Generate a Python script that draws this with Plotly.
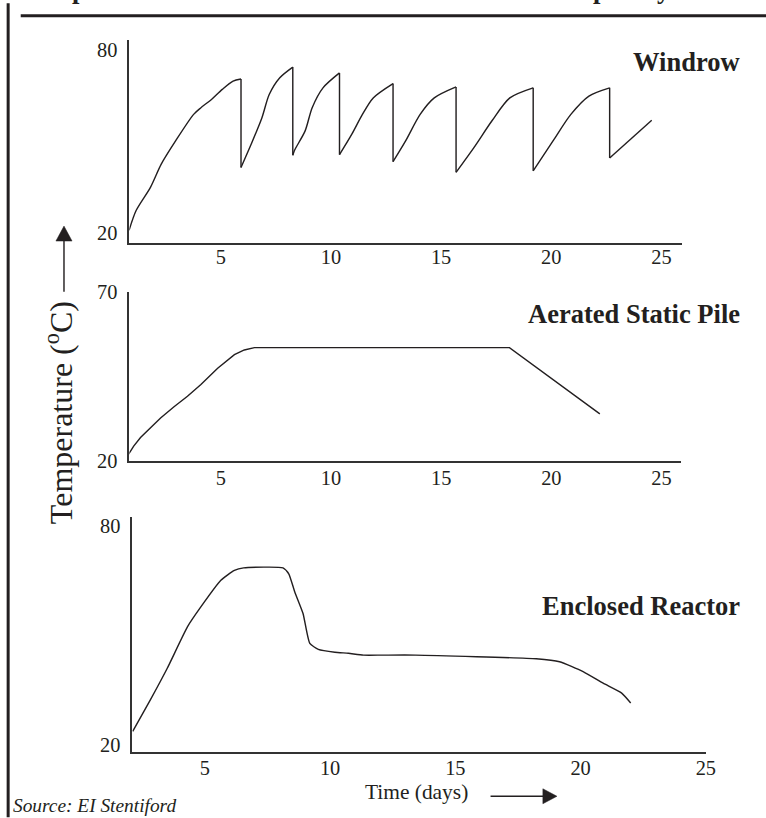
import plotly.graph_objects as go

# ---------------- data ----------------
windrow_day = [0.84, 1.16, 1.81, 2.30, 2.95, 3.77, 4.10, 4.58, 5.07, 5.56, 5.92,
               5.92, 6.38, 6.87, 7.20, 7.68, 8.27,
               8.27, 8.34, 8.83, 9.15, 9.64, 10.39,
               10.39, 10.95, 11.43, 11.92, 12.82,
               12.82, 13.39, 14.05, 14.69, 15.68,
               15.68, 16.49, 17.31, 18.12, 19.18,
               19.18, 20.08, 20.89, 21.71, 22.65,
               22.65, 24.56]
windrow_temp = [20.9, 27.4, 35.0, 42.6, 50.2, 58.9, 61.1, 63.8, 67.1, 69.8, 70.5,
                41.5, 49.1, 57.8, 65.4, 70.9, 74.4,
                45.5, 47.0, 53.5, 61.1, 67.6, 72.5,
                45.7, 52.4, 58.9, 64.3, 69.0,
                43.4, 50.2, 58.9, 64.3, 67.9,
                39.9, 48.0, 56.8, 64.3, 67.6,
                40.4, 50.2, 58.9, 64.9, 67.6,
                44.6, 57.0]

asp_day = [0.82, 1.05, 1.36, 1.81, 2.27, 2.88, 3.49, 4.10, 4.86, 5.62, 6.07, 6.53, 7.14, 18.10, 22.20]
asp_temp = [22.0, 24.4, 26.9, 29.8, 32.7, 36.0, 39.1, 42.6, 47.4, 51.4, 52.8, 53.5, 53.5, 53.5, 33.9]

er_day = [2.12, 2.83, 3.50, 4.31, 4.84, 5.64, 6.18, 6.55, 8.12, 8.35, 8.59, 8.92, 9.19, 9.53,
          10.19, 10.73, 11.33, 12.07, 13.41, 18.23, 19.16, 20.10, 20.90, 21.64, 22.00]
er_temp = [23.6, 32.3, 40.9, 52.3, 57.7, 65.0, 67.7, 68.4, 68.4, 66.8, 61.8, 55.9, 47.7, 46.1,
           45.3, 45.0, 44.5, 44.5, 44.5, 43.5, 42.7, 40.0, 36.8, 34.1, 31.4]

x_ticks = [5, 10, 15, 20, 25]
windrow_yticks = [20, 80]
asp_yticks = [20, 70]
er_yticks = [20, 80]

panel_names = ["Windrow", "Aerated Static Pile", "Enclosed Reactor"]
title_text = "Temperature trends within the three different compost systems"
y_title = "Temperature (<sup>o</sup>C)"
x_title = "Time (days)"
source_text = "Source: EI Stentiford"

# ---------------- layout helpers ----------------
W, H = 766, 818
INK = "#231f20"
SERIF = "Liberation Serif, Times New Roman, serif"
# the photographed page comes out slightly reduced and pushed down; these
# factors map a wanted position in the picture back to figure pixels
SX, OX, SY, OY = 0.981, 0.4, 0.978, 7.8
K = 1.02  # size compensation for the same reduction


def fx(px):
    return ((px - OX) / SX) / W


def fy(py):
    return 1 - ((py - OY) / SY) / H


fig = go.Figure()

# windrow: smooth rising arcs, straight vertical drops where two points share a day
arc_x, arc_y, drop_x, drop_y = [], [], [], []
for i, (d, t) in enumerate(zip(windrow_day, windrow_temp)):
    if i > 0 and d == windrow_day[i - 1]:
        arc_x.append(None); arc_y.append(None)
        drop_x += [windrow_day[i - 1], d, None]
        drop_y += [windrow_temp[i - 1], t, None]
    arc_x.append(d); arc_y.append(t)

line_style = dict(color=INK, width=1.4 * K)
fig.add_trace(go.Scatter(x=arc_x, y=arc_y, mode="lines", line=dict(shape="spline", smoothing=0.8, **line_style),
                         connectgaps=False, xaxis="x", yaxis="y", showlegend=False, hoverinfo="skip"))
fig.add_trace(go.Scatter(x=drop_x, y=drop_y, mode="lines", line=line_style,
                         connectgaps=False, xaxis="x", yaxis="y", showlegend=False, hoverinfo="skip"))
fig.add_trace(go.Scatter(x=asp_day, y=asp_temp, mode="lines", line=line_style,
                         xaxis="x2", yaxis="y2", showlegend=False, hoverinfo="skip"))
fig.add_trace(go.Scatter(x=er_day, y=er_temp, mode="lines", line=dict(shape="spline", smoothing=0.5, **line_style),
                         xaxis="x3", yaxis="y3", showlegend=False, hoverinfo="skip"))

axis_common = dict(showline=True, linecolor="#333333", linewidth=1.6 * K, showgrid=False,
                   zeroline=False, ticks="", tickfont=dict(family=SERIF, size=20 * K, color=INK),
                   fixedrange=True)

fig.update_layout(
    width=W, height=H,
    margin=dict(l=0, r=0, t=0, b=0),
    paper_bgcolor="white", plot_bgcolor="white",
    showlegend=False,
    xaxis=dict(domain=[fx(129), fx(678)], range=[0.854, 25.92], anchor="y",
               tickvals=x_ticks, ticklabelstandoff=-5, **axis_common),
    yaxis=dict(domain=[fy(241), fy(37)], range=[16.74, 83.26], anchor="x",
               tickvals=windrow_yticks, ticklabelstandoff=6, **axis_common),
    xaxis2=dict(domain=[fx(129), fx(677)], range=[0.854, 25.87], anchor="y2",
                tickvals=x_ticks, ticklabelstandoff=-2, **axis_common),
    yaxis2=dict(domain=[fy(460), fy(290)], range=[20, 70], anchor="x2",
                tickvals=asp_yticks, ticklabelstandoff=6, **axis_common),
    xaxis3=dict(domain=[fx(132), fx(702)], range=[2.108, 25.0], anchor="y3",
                tickvals=x_ticks, ticklabelstandoff=-4, **axis_common),
    yaxis3=dict(domain=[fy(753), fy(516)], range=[17.82, 82.45], anchor="x3",
                tickvals=er_yticks, ticklabelstandoff=6, **axis_common),
)

# panel labels
label_pos = [(738, 59), (738, 312), (738, 606)]
for name, (lx, ly) in zip(panel_names, label_pos):
    fig.add_annotation(x=fx(lx), y=fy(ly), xref="paper", yref="paper", text=f"<b>{name}</b>",
                       showarrow=False, xanchor="right", yanchor="middle",
                       font=dict(family=SERIF, size=26 * K, color=INK))

# title: only its lowest part shows at the very top edge
fig.add_annotation(x=fx(21), y=fy(2.8), xref="paper", yref="paper", text=f"<b>{title_text}</b>",
                   showarrow=False, xanchor="left", yanchor="bottom",
                   font=dict(family=SERIF, size=26 * K, color=INK))

# y axis title (rotated)
fig.add_annotation(x=fx(59), y=fy(411), xref="paper", yref="paper", text=y_title,
                   showarrow=False, textangle=-90, xanchor="center", yanchor="middle",
                   font=dict(family=SERIF, size=32, color=INK))

# x axis title
fig.add_annotation(x=fx(414), y=fy(793), xref="paper", yref="paper", text=x_title,
                   showarrow=False, xanchor="center", yanchor="middle",
                   font=dict(family=SERIF, size=21 * K, color=INK))

# source
fig.add_annotation(x=fx(11), y=fy(806), xref="paper", yref="paper", text=f"<i>{source_text}</i>",
                   showarrow=False, xanchor="left", yanchor="middle",
                   font=dict(family=SERIF, size=19 * K, color=INK))

# frame lines
fig.add_shape(type="line", xref="paper", yref="paper", x0=fx(8.5), x1=fx(8.5), y0=fy(818), y1=fy(0),
              line=dict(color=INK, width=3))
fig.add_shape(type="line", xref="paper", yref="paper", x0=fx(21), x1=fx(766), y0=fy(12.5), y1=fy(12.5),
              line=dict(color=INK, width=3))

# up arrow (y axis)
fig.add_shape(type="line", xref="paper", yref="paper", x0=fx(64), x1=fx(64), y0=fy(290), y1=fy(238),
              line=dict(color=INK, width=1.4 * K))
fig.add_shape(type="path", xref="paper", yref="paper",
              path=f"M {fx(56)} {fy(239)} L {fx(72)} {fy(239)} L {fx(64)} {fy(224)} Z",
              fillcolor=INK, line=dict(color=INK, width=0.5))

# right arrow (x axis)
fig.add_shape(type="line", xref="paper", yref="paper", x0=fx(488), x1=fx(541), y0=fy(797), y1=fy(797),
              line=dict(color=INK, width=1.4 * K))
fig.add_shape(type="path", xref="paper", yref="paper",
              path=f"M {fx(540)} {fy(789.5)} L {fx(540)} {fy(804.5)} L {fx(554)} {fy(797)} Z",
              fillcolor=INK, line=dict(color=INK, width=0.5))

fig.write_html("out.html", config={"displayModeBar": False},
               post_script="document.body.style.margin='0';document.body.style.overflow='hidden';")
